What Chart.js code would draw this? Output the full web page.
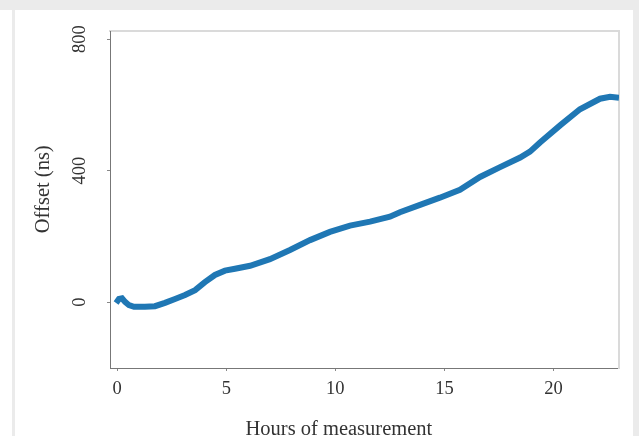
<!DOCTYPE html>
<html>
<head>
<meta charset="utf-8">
<script src="https://cdn.jsdelivr.net/npm/chart.js@4/dist/chart.umd.min.js"></script>
<style>
  html, body { margin: 0; padding: 0; background: #ffffff; overflow: hidden; }
  #wrap { position: relative; width: 639px; height: 436px; }
  canvas { position: absolute; left: 0; top: 0; }
  .band { position: absolute; background: #ebebeb; z-index: 2; }
</style>
</head>
<body>
<div id="wrap">
  <canvas id="c" width="639" height="436"></canvas>
  <div class="band" style="left:0;top:0;width:639px;height:10px;"></div>
  <div class="band" style="left:12px;top:10px;width:3px;height:426px;"></div>
  <div class="band" style="left:633px;top:10px;width:6px;height:426px;"></div>
</div>
<script>
const hours = [-0.05, 0.08, 0.22, 0.36, 0.54, 0.77, 1.27, 1.73, 2.19, 2.65, 3.11, 3.57, 4.02, 4.48, 4.94, 5.40, 6.09, 7.00, 7.92, 8.84, 9.75, 10.67, 11.59, 12.50, 12.96, 13.88, 14.79, 15.71, 16.63, 17.55, 18.47, 18.92, 19.38, 20.30, 21.21, 22.13, 22.59, 23.00];
const offsetNs = [-2, 10, 12, 1, -9, -14, -14, -12, -2, 10, 22, 37, 61, 83, 96, 102, 111, 131, 159, 189, 214, 233, 245, 260, 274, 296, 318, 342, 381, 411, 440, 458, 486, 538, 587, 619, 625, 622];
const xTicks = [0, 5, 10, 15, 20];
const yTicks = [0, 400, 800];
const xTitle = 'Hours of measurement';
const yTitle = 'Offset (ns)';

const points = hours.map((h, i) => ({ x: h, y: offsetNs[i] }));

new Chart(document.getElementById('c'), {
  type: 'line',
  data: {
    datasets: [{
      data: points,
      borderColor: '#1f77b4',
      borderWidth: 6,
      pointRadius: 0,
      tension: 0,
      fill: false
    }]
  },
  options: {
    responsive: false,
    animation: false,
    layout: { padding: 0 },
    plugins: { legend: { display: false }, tooltip: { enabled: false } },
    scales: {
      x: {
        type: 'linear',
        position: 'bottom',
        min: -0.33,
        max: 23.0,
        afterBuildTicks: (a) => { a.ticks = xTicks.map(v => ({ value: v })); },
        afterFit: (a) => { a.height = 68; },
        ticks: { font: { family: 'Liberation Serif', size: 18.5 }, color: '#333', padding: 7, maxRotation: 0, minRotation: 0 },
        grid: { drawOnChartArea: false, drawTicks: true, tickLength: 3, color: '#888' },
        border: { color: '#777', width: 1 },
        title: { display: true, text: xTitle + '          ', font: { family: 'Liberation Serif', size: 20.5, lineHeight: 1 }, color: '#333', padding: { top: 0, bottom: -4 } }
      },
      x2: {
        type: 'linear',
        position: 'top',
        afterFit: (a) => { a.height = 31; },
        ticks: { display: false },
        grid: { display: false },
        border: { color: '#dadada', width: 2 }
      },
      y: {
        type: 'linear',
        position: 'left',
        min: -200,
        max: 825,
        afterBuildTicks: (a) => { a.ticks = yTicks.map(v => ({ value: v })); },
        afterFit: (a) => { a.width = 110; },
        ticks: { font: { family: 'Liberation Serif', size: 18.5 }, color: '#333', padding: 13, minRotation: 90, maxRotation: 90, crossAlign: 'center' },
        grid: { drawOnChartArea: false, drawTicks: true, tickLength: 3, color: '#888' },
        border: { color: '#777', width: 1 },
        title: { display: true, text: '    ' + yTitle, font: { family: 'Liberation Serif', size: 20.5, lineHeight: 1.2 }, color: '#333', padding: { top: 31, bottom: 0 } }
      },
      y2: {
        type: 'linear',
        position: 'right',
        afterFit: (a) => { a.width = 20; },
        ticks: { display: false },
        grid: { display: false },
        border: { color: '#dadada', width: 2 }
      }
    }
  }
});
</script>
</body>
</html>
